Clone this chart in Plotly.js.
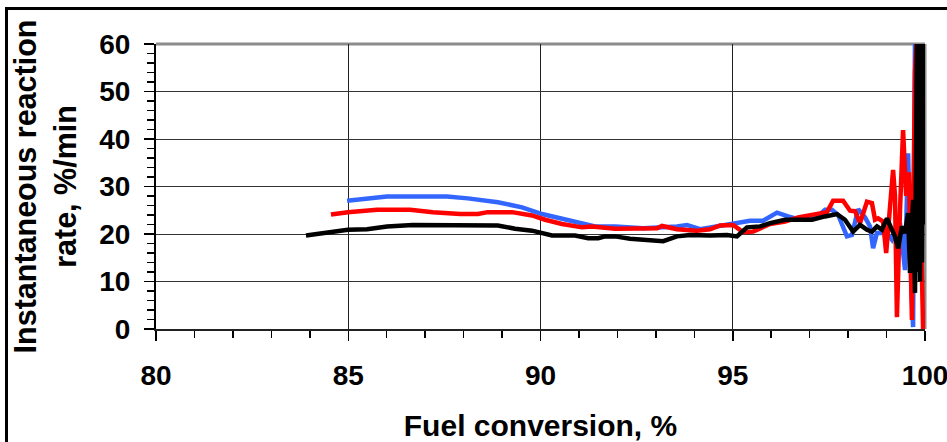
<!DOCTYPE html>
<html>
<head>
<meta charset="utf-8">
<script src="https://cdn.plot.ly/plotly-3.0.1.min.js"></script>
<style>
  html, body { margin: 0; padding: 0; background: #fff; overflow: hidden; }
  #chart { width: 947px; height: 442px; }
  #frame { position: absolute; left: 5px; top: 7px; width: 1000px; height: 1000px;
           border: 3px solid #000; pointer-events: none; }
</style>
</head>
<body>
<div id="chart"></div>
<div id="frame"></div>
<script>
// Fuel conversion (%) and instantaneous reaction rate (%/min) for three runs
const blueX = [84.97, 86.01, 87.57, 87.91, 88.11, 88.89, 89.52, 90.04, 90.56, 90.90, 91.42, 91.94,
  92.67, 93.55, 93.81, 94.15, 94.59, 95.11, 95.45, 95.79, 95.97, 96.15, 96.44, 96.70, 97.14, 97.40,
  97.58, 97.74, 97.97, 98.10, 98.26, 98.44, 98.57, 98.65, 98.75, 99.01, 99.14, 99.35, 99.48, 99.56,
  99.64, 99.69, 99.74];
const blueY = [27.0, 27.9, 27.9, 27.5, 27.5, 26.7, 25.6, 24.2, 23.3, 22.5, 21.6, 21.6,
  21.2, 21.6, 21.9, 21.0, 21.6, 22.3, 22.8, 22.8, 23.6, 24.5, 23.7, 23.1, 23.2, 25.1,
  25.1, 24.0, 19.5, 19.8, 25.2, 23.5, 21.6, 17.0, 20.2, 20.2, 18.8, 22.3, 12.4, 37.0,
  10.0, 0.4, 62.0];

const redX = [84.55, 84.99, 85.75, 86.61, 87.20, 87.91, 88.37, 88.63, 89.26, 89.78, 90.12, 90.56,
  91.08, 91.34, 91.94, 93.03, 93.16, 93.55, 94.07, 94.41, 94.67, 95.01, 95.27, 95.53, 95.97, 96.36,
  96.70, 97.22, 97.45, 97.61, 97.87, 98.05, 98.18, 98.31, 98.49, 98.62, 98.70, 98.78, 98.91, 98.99,
  99.06, 99.17, 99.22, 99.27, 99.35, 99.43, 99.51, 99.58, 99.66, 99.74, 99.79, 99.87, 99.95, 100.0];
const redY = [24.1, 24.6, 25.1, 25.1, 24.6, 24.2, 24.2, 24.6, 24.6, 23.9, 23.0, 22.1,
  21.4, 21.6, 21.1, 21.2, 21.7, 21.0, 20.7, 21.0, 21.8, 21.9, 20.4, 20.5, 22.1, 22.6,
  23.5, 24.4, 24.6, 27.0, 27.0, 24.9, 24.8, 22.3, 26.8, 26.5, 23.0, 23.3, 22.6, 16.0,
  24.0, 33.5, 28.0, 2.5, 25.0, 41.9, 28.0, 33.0, 1.9, 54.0, 62.0, 30.0, 0.0, 0.0];

const blackX = [83.90, 84.99, 85.49, 86.01, 86.68, 87.91, 88.89, 89.34, 89.78, 90.30, 90.90, 91.24,
  91.50, 91.68, 91.94, 92.33, 92.93, 93.19, 93.55, 93.89, 94.41, 94.85, 95.11, 95.37, 95.71, 95.97,
  96.36, 96.70, 97.06, 97.40, 97.71, 97.92, 98.13, 98.31, 98.49, 98.62, 98.75, 98.88, 99.01, 99.14,
  99.22, 99.30, 99.40, 99.48, 99.56, 99.61, 99.69, 99.74, 99.77, 99.79, 99.82, 99.84, 99.87, 99.90,
  99.92, 99.95, 99.97, 100.0];
const blackY = [19.7, 20.9, 21.0, 21.6, 21.9, 21.9, 21.8, 21.1, 20.7, 19.7, 19.7, 19.1,
  19.1, 19.5, 19.5, 19.0, 18.5, 18.5, 19.5, 19.8, 19.7, 19.8, 19.5, 21.4, 21.6, 22.3,
  23.0, 23.1, 23.0, 23.7, 24.2, 23.0, 20.5, 21.9, 20.9, 20.5, 21.6, 20.9, 23.3, 20.9,
  19.5, 17.0, 21.6, 20.2, 24.4, 11.8, 27.2, 7.6, 30.0, 62.0, 12.0, 62.0, 10.0, 62.0,
  14.0, 62.0, 22.0, 62.0];

const xTicks = [80, 85, 90, 95, 100];
const yTicks = [0, 10, 20, 30, 40, 50, 60];

const FONT = 'Liberation Sans, Arial, Helvetica, sans-serif';

const series = [
  { x: blueX, y: blueY, color: '#3366ff' },
  { x: redX, y: redY, color: '#ff0000' },
  { x: blackX, y: blackY, color: '#000000' }
];

const traces = series.map(s => ({
  type: 'scatter', mode: 'lines', x: s.x, y: s.y,
  line: { color: s.color, width: 4.5, shape: 'linear' },
  hoverinfo: 'skip', showlegend: false
}));

const layout = {
  width: 947, height: 442,
  margin: { l: 156, r: 22, t: 44, b: 113 },
  paper_bgcolor: '#ffffff', plot_bgcolor: '#ffffff',
  showlegend: false,
  xaxis: {
    range: [80, 100], tickmode: 'array', tickvals: xTicks, ticktext: xTicks.map(String),
    showgrid: true, gridcolor: '#222', gridwidth: 1,
    zeroline: false, showline: true, linecolor: '#222', linewidth: 2,
    ticks: 'outside', ticklen: 10, tickwidth: 1.5, tickcolor: '#000',
    minor: { dtick: 1, ticks: 'outside', ticklen: 7, tickwidth: 1.5, tickcolor: '#000', showgrid: false },
    ticklabelstandoff: 10,
    ticklabeloverflow: 'allow',
    tickfont: { family: FONT, size: 28, color: '#000', weight: 'bold' },
    title: { text: 'Fuel conversion, %', font: { family: FONT, size: 30, color: '#000', weight: 'bold' }, standoff: 25 },
    automargin: false
  },
  yaxis: {
    range: [0, 60], tickmode: 'array', tickvals: yTicks, ticktext: yTicks.map(String),
    showgrid: true, gridcolor: '#333', gridwidth: 1,
    zeroline: false, showline: true, linecolor: '#000', linewidth: 2,
    ticks: 'outside', ticklen: 10, tickwidth: 1.5, tickcolor: '#000',
    minor: { dtick: 2, ticks: 'outside', ticklen: 7, tickwidth: 1.5, tickcolor: '#000', showgrid: false },
    ticklabelstandoff: 8,
    tickfont: { family: FONT, size: 28, color: '#000', weight: 'bold' },
    title: { text: 'Instantaneous reaction<br>rate, %/min', font: { family: FONT, size: 30.5, color: '#000', weight: 'bold' }, standoff: 14 },
    automargin: false
  },
  shapes: [
    { type: 'line', xref: 'paper', yref: 'paper', x0: 0, x1: 1, y0: 1, y1: 1,
      line: { color: '#8c8c8c', width: 3 }, layer: 'below' },
    { type: 'line', xref: 'paper', yref: 'paper', x0: 1, x1: 1, y0: 0, y1: 1,
      line: { color: '#8c8c8c', width: 3 }, layer: 'below' }
  ]
};

Plotly.newPlot('chart', traces, layout, { displayModeBar: false, staticPlot: true });
</script>
</body>
</html>
